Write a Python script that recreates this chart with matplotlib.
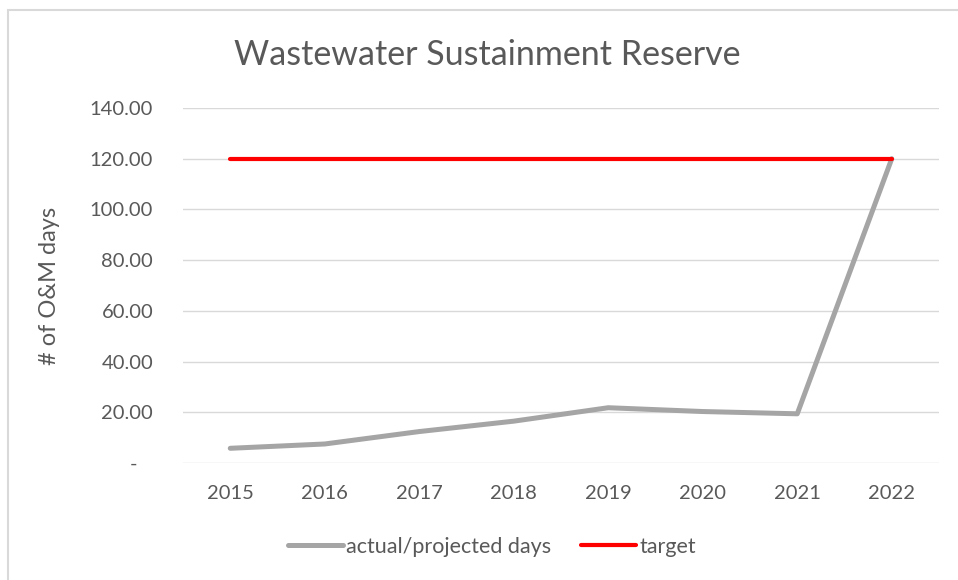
import numpy as np
import matplotlib
matplotlib.use("Agg")
import matplotlib.pyplot as plt
from matplotlib.patches import Rectangle

plt.rcParams['font.family'] = ['Lato', 'DejaVu Sans']

years = ['2015', '2016', '2017', '2018', '2019', '2020', '2021', '2022']
actual = [5.8, 7.5, 12.4, 16.5, 21.8, 20.3, 19.4, 120.0]
target = [120, 120, 120, 120, 120, 120, 120, 120]
yticks = [0, 20, 40, 60, 80, 100, 120, 140]

fig = plt.figure(figsize=(9.58, 5.80), dpi=100)
# outer chart border (Excel chart area)
fig.patches.append(Rectangle((8 / 958, -0.1), 1.1, 1 - 10 / 580 + 0.1,
                             transform=fig.transFigure, fill=False,
                             edgecolor='#D9D9D9', linewidth=1.5))

ax = fig.add_axes([183 / 958, 1 - 463 / 580, (939 - 183) / 958, (463 - 108) / 580])
x = np.arange(len(years))

ax.plot(x, actual, color='#A5A5A5', linewidth=3.6, solid_capstyle='round',
        label='actual/projected days', zorder=3)
ax.plot(x, target, color='#FF0000', linewidth=3.0, solid_capstyle='round',
        label='target', zorder=3)

ax.set_xlim(-0.5, len(years) - 0.5)
ax.set_ylim(0, 140)
ax.set_yticks(yticks)
ax.set_yticklabels(['-   ' if v == 0 else '%.2f' % v for v in yticks])
ax.set_xticks(x)
ax.set_xticklabels(years)
ax.grid(axis='y', color='#D9D9D9', linewidth=1)
ax.set_axisbelow(True)
for s in ax.spines.values():
    s.set_visible(False)
ax.tick_params(axis='both', length=0, labelsize=14.5, labelcolor='#595959')
ax.tick_params(axis='y', pad=21.5)
ax.tick_params(axis='x', pad=16)

ax.set_ylabel('# of O&M days', fontsize=17, color='#595959')
ax.yaxis.set_label_coords((60 - 183) / 756, 0.5)
fig.text(487 / 958, 1 - 55 / 580, 'Wastewater Sustainment Reserve',
         ha='center', va='center', fontsize=24.5, color='#595959')

leg = fig.legend(loc='center', bbox_to_anchor=(492 / 958, 1 - 547 / 580), ncol=2,
                 frameon=False, fontsize=15.5, handlelength=2.55, handletextpad=0.15,
                 columnspacing=1.4)
for t in leg.get_texts():
    t.set_color('#595959')

fig.savefig('out.png', dpi=100, facecolor='white')
